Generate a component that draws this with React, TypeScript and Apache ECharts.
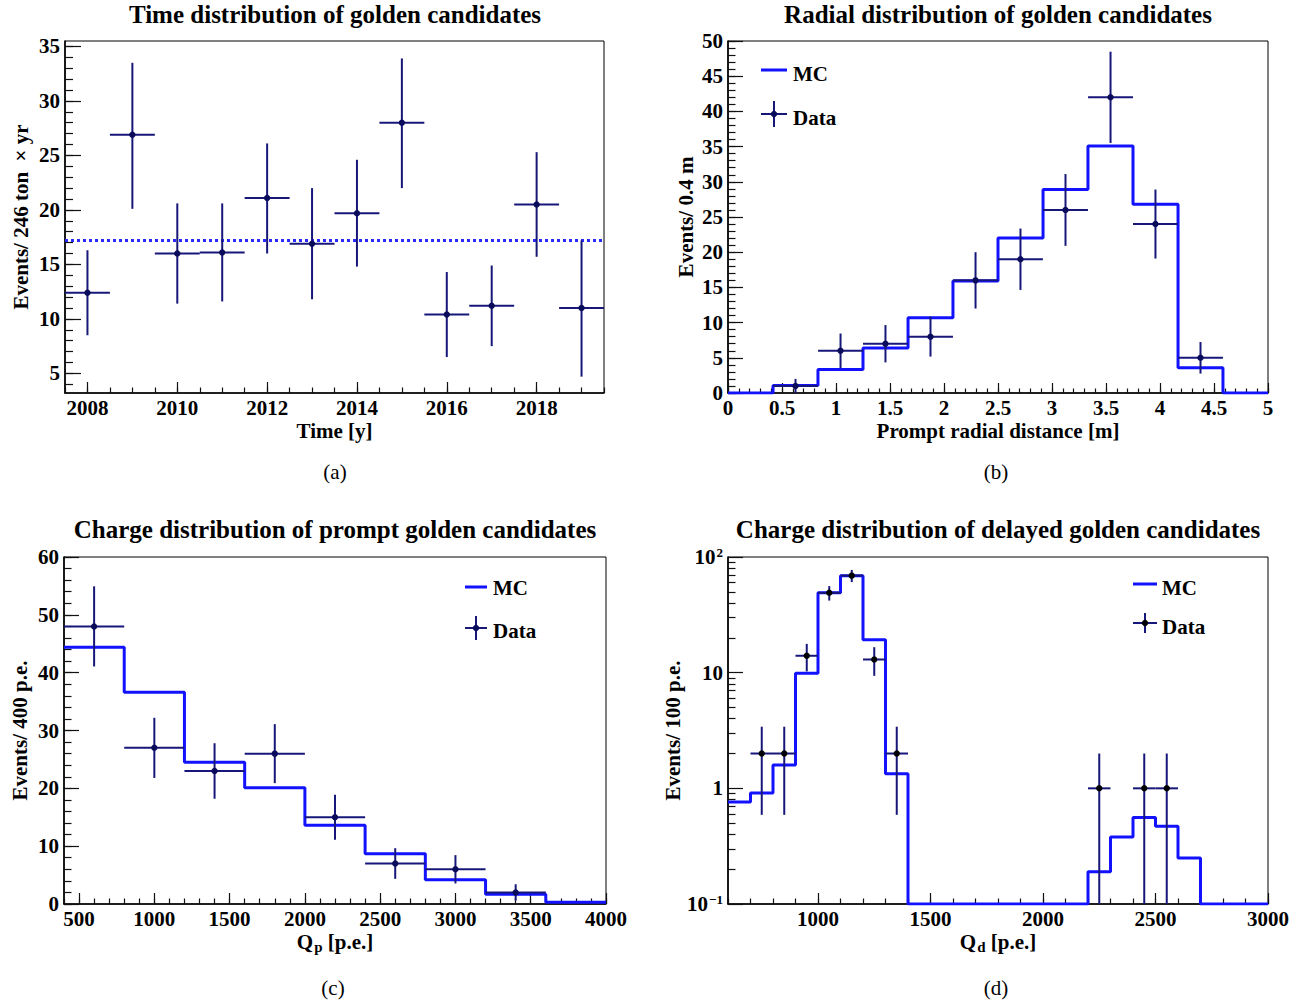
import React, { useEffect, useRef } from 'react';
import * as echarts from 'echarts';

const FONT = '"Liberation Serif", "Times New Roman", Times, serif';
const MC_COLOR = '#1212ff';
const ERR_COLOR = '#17177a';
const MARK_COLOR = '#0b0b5c';

// ---------- Panel (a): time distribution ----------
const yearsA = [2008, 2009, 2010, 2011, 2012, 2013, 2014, 2015, 2016, 2017, 2018, 2019];
const ratesA = [12.4, 26.9, 16.0, 16.1, 21.1, 16.9, 19.7, 28.0, 10.4, 11.2, 20.5, 11.0];
const errUpA = [3.9, 6.6, 4.6, 4.5, 5.0, 5.1, 4.9, 5.9, 3.9, 3.7, 4.8, 6.2];
const errLoA = [3.9, 6.8, 4.6, 4.5, 5.1, 5.1, 4.9, 6.0, 3.9, 3.7, 4.8, 6.3];
const halfBinA = 0.5;
const meanA = 17.2;
const xTicksA = [2008, 2010, 2012, 2014, 2016, 2018];
const yTicksA = [5, 10, 15, 20, 25, 30, 35];

// ---------- Panel (b): radial distribution ----------
const edgesB = [0, 0.417, 0.833, 1.25, 1.667, 2.083, 2.5, 2.917, 3.333, 3.75, 4.167, 4.583, 5];
const mcB = [0, 1.05, 3.35, 6.4, 10.7, 15.9, 22.0, 28.9, 35.1, 26.8, 3.6, 0];
const centersB = [0.625, 1.042, 1.458, 1.875, 2.292, 2.708, 3.125, 3.542, 3.958, 4.375];
const countsB = [1, 6, 7, 8, 16, 19, 26, 42, 24, 5];
const errB = [1.0, 2.45, 2.65, 2.83, 4.0, 4.36, 5.1, 6.48, 4.9, 2.24];
const halfBinB = 0.208;
const xTicksB = [0, 0.5, 1, 1.5, 2, 2.5, 3, 3.5, 4, 4.5, 5];
const yTicksB = [0, 5, 10, 15, 20, 25, 30, 35, 40, 45, 50];

// ---------- Panel (c): prompt charge ----------
const edgesC = [400, 800, 1200, 1600, 2000, 2400, 2800, 3200, 3600, 4000];
const mcC = [44.4, 36.6, 24.5, 20.1, 13.6, 8.7, 4.2, 1.7, 0.3];
const centersC = [600, 1000, 1400, 1800, 2200, 2600, 3000, 3400];
const countsC = [48, 27, 23, 26, 15, 7, 6, 2];
const errC = [6.93, 5.2, 4.8, 5.1, 3.87, 2.65, 2.45, 1.41];
const halfBinC = 200;
const xTicksC = [500, 1000, 1500, 2000, 2500, 3000, 3500, 4000];
const yTicksC = [0, 10, 20, 30, 40, 50, 60];

// ---------- Panel (d): delayed charge (log) ----------
const edgesD = [600, 700, 800, 900, 1000, 1100, 1200, 1300, 1400, 1500, 1600, 1700, 1800, 1900, 2000,
  2100, 2200, 2300, 2400, 2500, 2600, 2700, 2800, 2900, 3000];
const mcD = [0.76, 0.91, 1.59, 9.9, 49, 69, 19.3, 1.34, 0, 0, 0, 0, 0, 0, 0, 0,
  0.19, 0.38, 0.56, 0.47, 0.25, 0, 0, 0];
const centersD = [750, 850, 950, 1050, 1150, 1250, 1350, 2250, 2450, 2550];
const countsD = [2, 2, 14, 49, 69, 13, 2, 1, 1, 1];
const errD = [1.41, 1.41, 3.74, 7.0, 8.31, 3.61, 1.41, 1, 1, 1];
const halfBinD = 50;
const xTicksD = [1000, 1500, 2000, 2500, 3000];
const yTicksD = [0.1, 1, 10, 100];
const yMinorD = [0.2, 0.3, 0.4, 0.5, 0.6, 0.7, 0.8, 0.9, 2, 3, 4, 5, 6, 7, 8, 9, 20, 30, 40, 50, 60, 70, 80, 90];

function range(a: number, b: number, step: number): number[] {
  const out: number[] = [];
  for (let i = 0; a + i * step <= b + 1e-9; i++) out.push(Math.round((a + i * step) * 1000) / 1000);
  return out;
}

const GRIDS = [
  { left: 65, top: 41, width: 539, height: 352 },
  { left: 728, top: 41, width: 540, height: 352 },
  { left: 64, top: 557, width: 542, height: 347 },
  { left: 728, top: 557, width: 540, height: 347 },
];

const labelStyle = { color: '#000', fontFamily: FONT, fontWeight: 'bold' as const, fontSize: 21 };
const tickLine = { color: '#111', width: 1.2 };

function majorAxis(dim: 'x' | 'y', gridIndex: number, type: string, min: number, max: number,
  ticks: number[], len: number, extra: any = {}) {
  return {
    type, gridIndex, min, max,
    ...(type === 'log' ? { logBase: 10 } : {}),
    position: dim === 'x' ? 'bottom' : 'left',
    axisLine: { show: true, onZero: false, lineStyle: { color: '#000', width: 1.6 } },
    axisTick: { show: true, inside: true, length: len, customValues: ticks, lineStyle: tickLine },
    axisLabel: {
      show: true, customValues: ticks, margin: dim === 'x' ? 4 : 5,
      formatter: (v: number) => String(v),
      ...labelStyle,
    },
    splitLine: { show: false },
    minorTick: { show: false },
    nameLocation: 'middle',
    nameTextStyle: { ...labelStyle },
    ...extra,
  };
}

function minorAxis(dim: 'x' | 'y', gridIndex: number, type: string, min: number, max: number,
  ticks: number[], len: number) {
  return {
    type, gridIndex, min, max,
    ...(type === 'log' ? { logBase: 10 } : {}),
    position: dim === 'x' ? 'bottom' : 'left',
    axisLine: { show: false, onZero: false },
    axisTick: { show: true, inside: true, length: len, customValues: ticks, lineStyle: tickLine },
    axisLabel: { show: false },
    splitLine: { show: false },
  };
}

function histSeries(axisIdx: number, edges: number[], vals: number[], floor: number | null) {
  const data = edges.map((e, i) => {
    const v = vals[Math.min(i, vals.length - 1)];
    return [e, floor !== null ? Math.max(v, floor) : v];
  });
  return {
    type: 'line', xAxisIndex: axisIdx, yAxisIndex: axisIdx, step: 'end', data,
    symbol: 'none', showSymbol: false, z: 3,
    lineStyle: { color: MC_COLOR, width: 3 },
  };
}

function errSeries(axisIdx: number, xs: number[], ys: number[], half: number, lo: number[], hi: number[],
  floor: number, markColor: string) {
  const data = xs.map((x, i) => [x, ys[i], half, lo[i], hi[i]]);
  return {
    type: 'custom', xAxisIndex: axisIdx, yAxisIndex: axisIdx, data, z: 6, clip: true,
    encode: { x: 0, y: 1 },
    renderItem: (_p: any, api: any) => {
      const x = api.value(0), y = api.value(1), hw = api.value(2), l = api.value(3), h = api.value(4);
      const c = api.coord([x, y]);
      const pl = api.coord([x - hw, y]);
      const pr = api.coord([x + hw, y]);
      const pt = api.coord([x, y + h]);
      const pb = api.coord([x, Math.max(y - l, floor)]);
      return {
        type: 'group',
        children: [
          { type: 'line', shape: { x1: pl[0], y1: pl[1], x2: pr[0], y2: pr[1] }, style: { stroke: ERR_COLOR, lineWidth: 2 } },
          { type: 'line', shape: { x1: pt[0], y1: pt[1], x2: pb[0], y2: pb[1] }, style: { stroke: ERR_COLOR, lineWidth: 2 } },
          { type: 'circle', shape: { cx: c[0], cy: c[1], r: 3.2 }, style: { fill: markColor } },
        ],
      };
    },
  };
}

function legend(lineX1: number, lineX2: number, mcY: number, dataY: number, barHalf: number,
  textX: number, mcTextY: number, dataTextY: number, markColor: string) {
  const cx = (lineX1 + lineX2) / 2;
  return [
    { type: 'line', shape: { x1: lineX1, y1: mcY, x2: lineX2, y2: mcY }, style: { stroke: MC_COLOR, lineWidth: 3 } },
    { type: 'text', x: textX, y: mcTextY, style: { text: 'MC', align: 'left', verticalAlign: 'middle', fill: '#000', font: `bold 21px ${FONT}` } },
    { type: 'line', shape: { x1: lineX1, y1: dataY, x2: lineX2, y2: dataY }, style: { stroke: ERR_COLOR, lineWidth: 2 } },
    { type: 'line', shape: { x1: cx, y1: dataY - barHalf, x2: cx, y2: dataY + barHalf }, style: { stroke: ERR_COLOR, lineWidth: 2 } },
    { type: 'circle', shape: { cx, cy: dataY, r: 3.2 }, style: { fill: markColor } },
    { type: 'text', x: textX, y: dataTextY, style: { text: 'Data', align: 'left', verticalAlign: 'middle', fill: '#000', font: `bold 21px ${FONT}` } },
  ];
}

function textEl(text: string, x: number, y: number, font: string) {
  return { type: 'text', x, y, style: { text, align: 'center', verticalAlign: 'middle', fill: '#000', font } };
}

function buildOption() {
  const logFmt = (v: number) => {
    if (Math.abs(v - 100) < 1e-6) return '10{sup|2}';
    if (Math.abs(v - 10) < 1e-6) return '10';
    if (Math.abs(v - 1) < 1e-6) return '1';
    if (Math.abs(v - 0.1) < 1e-9) return '10{sup|\u22121}';
    return String(v);
  };
  const supRich = { sup: { fontSize: 13, fontWeight: 'bold', fontFamily: FONT, color: '#000', verticalAlign: 'top', lineHeight: 12, padding: [0, 0, 0, 1] } };
  const subRich = {
    m: { fontSize: 21, fontWeight: 'bold', fontFamily: FONT, color: '#000', verticalAlign: 'top', lineHeight: 22 },
    sub: { fontSize: 15, fontWeight: 'bold', fontFamily: FONT, color: '#000', verticalAlign: 'top', lineHeight: 22, padding: [8, 0, 0, 1] },
  };

  const xAxis = [
    majorAxis('x', 0, 'value', 2007.5, 2019.5, xTicksA, 11, { name: 'Time [y]', nameGap: 27 }),
    minorAxis('x', 0, 'value', 2007.5, 2019.5, range(2007.5, 2019.5, 0.5), 5.5),
    majorAxis('x', 1, 'value', 0, 5, xTicksB, 10, { name: 'Prompt radial distance [m]', nameGap: 27 }),
    minorAxis('x', 1, 'value', 0, 5, range(0, 5, 0.1), 4.5),
    majorAxis('x', 2, 'value', 400, 4000, xTicksC, 11, {
      name: '{m|Q}{sub|p}{m| [p.e.]}', nameGap: 27,
      nameTextStyle: { ...labelStyle, rich: subRich },
    }),
    minorAxis('x', 2, 'value', 400, 4000, range(400, 4000, 100), 5.5),
    majorAxis('x', 3, 'value', 600, 3000, xTicksD, 11, {
      name: '{m|Q}{sub|d}{m| [p.e.]}', nameGap: 27,
      nameTextStyle: { ...labelStyle, rich: subRich },
    }),
    minorAxis('x', 3, 'value', 600, 3000, range(600, 3000, 100), 5.5),
  ];
  const yAxis = [
    majorAxis('y', 0, 'value', 3.2, 35.5, yTicksA, 16, { name: 'Events/ 246 ton  \u00d7 yr', nameGap: 34, nameRotate: 90 }),
    minorAxis('y', 0, 'value', 3.2, 35.5, range(4, 35, 1), 8),
    majorAxis('y', 1, 'value', 0, 50, yTicksB, 15, { name: 'Events/ 0.4 m', nameGap: 32, nameRotate: 90 }),
    minorAxis('y', 1, 'value', 0, 50, range(0, 50, 1), 7.5),
    majorAxis('y', 2, 'value', 0, 60, yTicksC, 15, { name: 'Events/ 400 p.e.', nameGap: 34, nameRotate: 90 }),
    minorAxis('y', 2, 'value', 0, 60, range(0, 60, 2), 7.5),
    majorAxis('y', 3, 'log', 0.1, 100, yTicksD, 15, {
      name: 'Events/ 100 p.e.', nameGap: 42, nameRotate: 90,
      axisLabel: { show: true, customValues: yTicksD, margin: 5, formatter: logFmt, ...labelStyle, lineHeight: 22, rich: supRich },
    }),
    minorAxis('y', 3, 'log', 0.1, 100, yMinorD, 7.5),
  ];

  const series: any[] = [
    {
      type: 'line', xAxisIndex: 0, yAxisIndex: 0, data: [[2007.5, meanA], [2019.5, meanA]],
      symbol: 'none', showSymbol: false, z: 3,
      lineStyle: { color: '#2a2aff', width: 3, type: [3, 3] },
    },
    errSeries(0, yearsA, ratesA, halfBinA, errLoA, errUpA, 3.2, MARK_COLOR),
    histSeries(2, edgesB, mcB, null),
    errSeries(2, centersB, countsB, halfBinB, errB, errB, 0, MARK_COLOR),
    histSeries(4, edgesC, mcC, null),
    errSeries(4, centersC, countsC, halfBinC, errC, errC, 0, MARK_COLOR),
    histSeries(6, edgesD, mcD, 0.1),
    errSeries(6, centersD, countsD, halfBinD, errD, errD, 0.1, '#000'),
  ];

  const titleFont = `bold 25px ${FONT}`;
  const capFont = `21px ${FONT}`;
  const graphic = [
    textEl('Time distribution of golden candidates', 335, 14, titleFont),
    textEl('Radial distribution of golden candidates', 998, 14, titleFont),
    textEl('Charge distribution of prompt golden candidates', 335, 529, titleFont),
    textEl('Charge distribution of delayed golden candidates', 998, 529, titleFont),
    textEl('(a)', 335, 472, capFont),
    textEl('(b)', 996, 472, capFont),
    textEl('(c)', 333, 988, capFont),
    textEl('(d)', 996, 988, capFont),
    ...legend(761, 787, 70, 114, 13, 793, 74, 118, MARK_COLOR),
    ...legend(465, 487, 587, 628, 12, 493, 588, 631, MARK_COLOR),
    ...legend(1133, 1157, 584, 623, 10, 1162, 588, 627, '#000'),
  ];

  return {
    animation: false,
    backgroundColor: '#fff',
    textStyle: { fontFamily: FONT },
    grid: GRIDS.map((g) => ({ ...g, show: true, borderColor: '#000', borderWidth: 1, backgroundColor: 'transparent', containLabel: false })),
    xAxis: xAxis.map((a, i) => ({ ...a, gridIndex: Math.floor(i / 2) })),
    yAxis: yAxis.map((a, i) => ({ ...a, gridIndex: Math.floor(i / 2) })),
    series,
    graphic,
  };
}

export default function App() {
  const ref = useRef<HTMLDivElement>(null);
  useEffect(() => {
    if (!ref.current) return;
    const chart = echarts.init(ref.current, undefined, { renderer: 'svg' });
    chart.setOption(buildOption() as any);
    return () => chart.dispose();
  }, []);
  return <div ref={ref} style={{ position: 'absolute', left: 0, top: 0, width: 1307, height: 1004 }} />;
}
